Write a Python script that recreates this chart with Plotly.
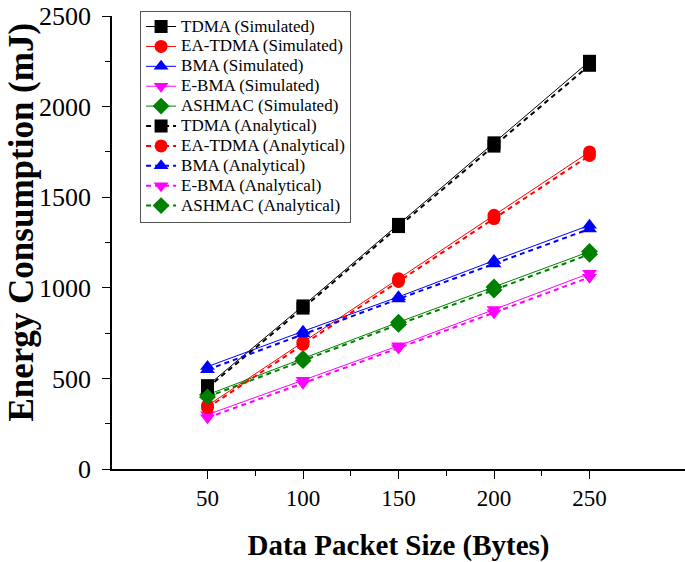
import plotly.graph_objects as go

# Data
packet_size = [50, 100, 150, 200, 250]

tdma_sim = [460, 900, 1350, 1800, 2250]
ea_tdma_sim = [350, 700, 1050, 1400, 1750]
bma_sim = [565, 760, 950, 1150, 1345]
ebma_sim = [300, 490, 680, 880, 1080]
ashmac_sim = [410, 610, 810, 1005, 1200]

tdma_ana = [448, 888, 1338, 1782, 2228]
ea_tdma_ana = [338, 688, 1035, 1382, 1730]
bma_ana = [548, 745, 938, 1132, 1325]
ebma_ana = [283, 473, 668, 862, 1058]
ashmac_ana = [398, 598, 798, 988, 1185]

y_ticks = [0, 500, 1000, 1500, 2000, 2500]
x_ticks = [50, 100, 150, 200, 250]
x_minor = [75, 125, 175, 225]

serif = "Liberation Serif, Times New Roman, serif"

series = [
    ("TDMA (Simulated)", tdma_sim, "black", "square", "solid"),
    ("EA-TDMA (Simulated)", ea_tdma_sim, "red", "circle", "solid"),
    ("BMA (Simulated)", bma_sim, "blue", "triangle-up", "solid"),
    ("E-BMA (Simulated)", ebma_sim, "magenta", "triangle-down", "solid"),
    ("ASHMAC (Simulated)", ashmac_sim, "green", "diamond", "solid"),
    ("TDMA (Analytical)", tdma_ana, "black", "square", "dash"),
    ("EA-TDMA (Analytical)", ea_tdma_ana, "red", "circle", "dash"),
    ("BMA (Analytical)", bma_ana, "blue", "triangle-up", "dash"),
    ("E-BMA (Analytical)", ebma_ana, "magenta", "triangle-down", "dash"),
    ("ASHMAC (Analytical)", ashmac_ana, "green", "diamond", "dash"),
]

fig = go.Figure()

for name, vals, color, symbol, dash in series:
    fig.add_trace(go.Scatter(
        x=packet_size,
        y=vals,
        mode='lines+markers',
        # bigger glyphs than the legend font so rows stay tight
        name='<span style="font-size:17px">' + name + '</span>',
        line=dict(color=color, width=1 if dash == "solid" else 2,
                  dash="solid" if dash == "solid" else "5px,4px"),
        marker=dict(symbol=symbol, size=13, color=color),
    ))

# y title sits a little above the plot centre in the original
fig.add_annotation(
    text='<b>Energy Consumption (mJ)</b>',
    xref='paper', yref='paper', x=-0.158, y=0.545,
    xanchor='center', yanchor='middle', textangle=-90,
    showarrow=False, font=dict(family=serif, size=35, color='black'),
)

fig.update_layout(
    width=685,
    height=562,
    autosize=False,
    margin=dict(l=112, r=0, t=16, b=93),
    plot_bgcolor='white',
    paper_bgcolor='white',
    font=dict(family=serif, color='black'),
    showlegend=True,
    legend=dict(
        x=0.049, y=1.012, xanchor='left', yanchor='top',
        bgcolor='white',
        bordercolor='#555555', borderwidth=1,
        font=dict(family=serif, size=13, color='black'),
        tracegroupgap=0,
        itemwidth=30,
    ),
    xaxis=dict(
        range=[0, 300],
        tickvals=x_ticks,
        ticks='outside', ticklen=8, tickwidth=1, tickcolor='black',
        minor=dict(tickvals=x_minor, ticks='outside',
                   ticklen=5, tickcolor='black'),
        showline=True, linecolor='black', linewidth=1.5,
        showgrid=False, zeroline=False, automargin=False,
        tickfont=dict(family=serif, size=23),
        title=dict(text='<b>Data Packet Size (Bytes)</b>',
                   font=dict(family=serif, size=29), standoff=25),
    ),
    yaxis=dict(
        range=[0, 2500],
        tickvals=y_ticks,
        ticks='outside', ticklen=8, tickwidth=1, tickcolor='black',
        minor=dict(dtick=250, tick0=0, ticks='outside',
                   ticklen=5, tickcolor='black'),
        showline=True, linecolor='black', linewidth=1.5,
        showgrid=False, zeroline=False, automargin=False,
        ticklabeloverflow='allow', ticklabelstandoff=6,
        tickfont=dict(family=serif, size=26),
    ),
)

# page margin off so the figure sits at the window's corner
fig.write_html("out.html", config={'displayModeBar': False},
               post_script="document.body.style.margin='0';")
